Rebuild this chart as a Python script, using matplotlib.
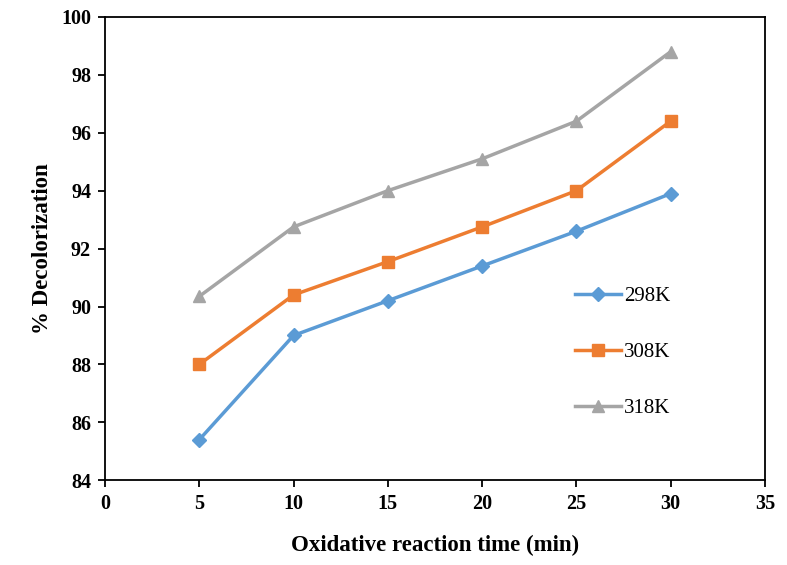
import matplotlib.pyplot as plt

time_min = [5, 10, 15, 20, 25, 30]
decol_298 = [85.4, 89.0, 90.2, 91.4, 92.6, 93.9]
decol_308 = [88.0, 90.4, 91.55, 92.75, 94.0, 96.4]
decol_318 = [90.35, 92.75, 94.0, 95.1, 96.4, 98.8]
series_labels = ['298K', '308K', '318K']

plt.rcParams['font.family'] = ['Liberation Serif', 'DejaVu Serif']

fig = plt.figure(figsize=(7.87, 5.65), dpi=100)
ax = fig.add_axes([0.1334, 0.150, 0.8386, 0.820])

ax.plot(time_min, decol_298, color='#5B9BD5', lw=2.5, marker='D', ms=7, label=series_labels[0])
ax.plot(time_min, decol_308, color='#ED7D31', lw=2.5, marker='s', ms=8, label=series_labels[1])
ax.plot(time_min, decol_318, color='#A5A5A5', lw=2.5, marker='^', ms=9, label=series_labels[2])

ax.set_xlim(0, 35)
ax.set_ylim(84, 100)
ax.set_xticks(range(0, 36, 5))
ax.set_yticks(range(84, 101, 2))
for s in ax.spines.values():
    s.set_linewidth(1.3)
ax.tick_params(direction='out', length=5, width=1.3, labelsize=14.5, pad=5)
for lab in ax.get_xticklabels() + ax.get_yticklabels():
    lab.set_fontweight('bold')

ax.set_xlabel('Oxidative reaction time (min)', fontsize=16.5, fontweight='bold', labelpad=15)
ax.set_ylabel('% Decolorization', fontsize=16.5, fontweight='bold', labelpad=6)

ax.legend(loc='center left', bbox_to_anchor=(0.712, 0.276), frameon=False,
          fontsize=15, labelspacing=1.75, handlelength=2.2, handletextpad=0.15,
          borderpad=0, borderaxespad=0)

fig.savefig('out.png', dpi=100)
